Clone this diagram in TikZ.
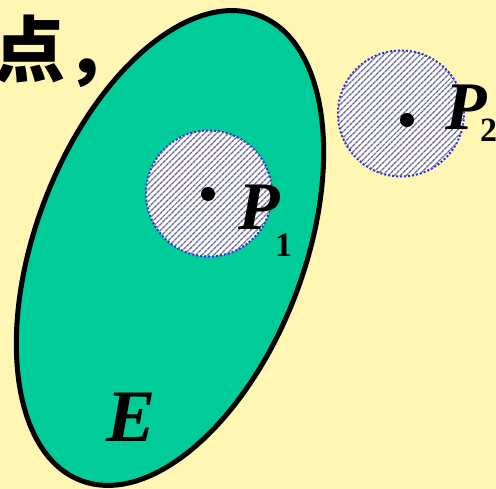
\documentclass[tikz,border=0pt]{standalone}
\usepackage{fontspec}
\setmainfont{Liberation Serif}
\newfontfamily\cjk{Noto Sans CJK SC}
\usetikzlibrary{patterns.meta}
\definecolor{paleyellow}{RGB}{255,246,180}
\definecolor{setgreen}{RGB}{0,204,153}
\definecolor{hatchblue}{RGB}{105,105,150}
\definecolor{dotblue}{RGB}{40,40,220}

\begin{document}
\begin{tikzpicture}[x=1pt, y=1pt,
    region/.style={draw=black, line width=5pt, fill=setgreen},
    nbhd/.style={circle, inner sep=0pt, minimum size=126pt, draw=dotblue, line width=2pt,
        dash pattern=on 2pt off 2pt, fill=white,
        postaction={pattern={Lines[angle=45, distance=4pt, line width=1.4pt]}, pattern color=hatchblue}},
    ptdot/.style={circle, fill=black, inner sep=0pt, minimum size=14pt},
    ptlab/.style={font=\fontsize{68}{68}\selectfont\bfseries\itshape, inner sep=0pt, anchor=base west},
    sublab/.style={font=\fontsize{34}{34}\selectfont\bfseries, inner sep=0pt, anchor=base west}
]
    \fill[paleyellow] (0,0) rectangle (496,489);
    \useasboundingbox (0,0) rectangle (496,489);
    \clip (0,0) rectangle (496,489);

    % the set E
    \draw[region, rotate around={69:(170,241)}] (170,241) ellipse [x radius=249pt, y radius=134pt];
    \node[font=\fontsize{74}{74}\selectfont\bfseries\itshape, inner sep=0pt, anchor=base west] (e) at (106,47) {E};

    % neighbourhoods of P1 and P2
    \node[nbhd] (u1) at (209,295.5) {};
    \node[nbhd] (u2) at (401,375.5) {};
    \node[ptdot] (d1) at (208,295) {};
    \node[ptdot] (d2) at (407,369) {};

    \node[ptlab]  (p1)    at (238,259) {P};
    \node[sublab] (p1sub) at (275,232) {1};
    \node[ptlab]  (p2)    at (445,359) {P};
    \node[sublab] (p2sub) at (480,347) {2};

    \node[font=\cjk\fontsize{72}{72}\selectfont\bfseries, inner sep=0pt, anchor=base west] (txt) at (-7,412) {点，};
\end{tikzpicture}
\end{document}
